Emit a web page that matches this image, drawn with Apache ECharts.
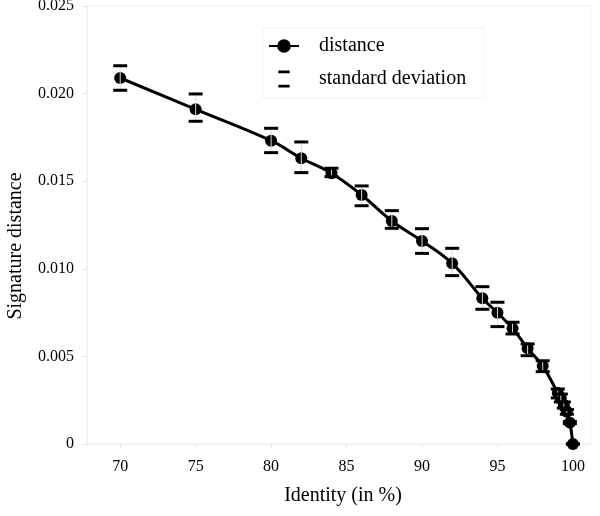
<!DOCTYPE html>
<html>
<head>
<meta charset="utf-8">
<script src="https://cdn.jsdelivr.net/npm/echarts@6/dist/echarts.min.js"></script>
<style>html,body{margin:0;padding:0;background:#fff;}#c{width:600px;height:516px;}</style>
</head>
<body>
<div id="c"></div>
<script>
var xVals = [70, 75, 80, 82, 84, 86, 88, 90, 92, 94, 95, 96, 97, 98, 99, 99.2, 99.4, 99.6, 99.8, 100];
var distVals = [0.02089, 0.01910, 0.01731, 0.01631, 0.01545, 0.01421, 0.01273, 0.01159, 0.01031, 0.00832, 0.00749, 0.00660, 0.00546, 0.00445, 0.00291, 0.00261, 0.00223, 0.00184, 0.00122, 0];
var sdUpper = [0.02159, 0.01998, 0.01802, 0.01724, 0.01574, 0.01473, 0.01332, 0.01229, 0.01117, 0.00898, 0.00809, 0.00695, 0.00571, 0.00475, 0.00314, 0.00285, 0.00240, 0.00197, 0.00128, 0];
var sdLower = [0.02019, 0.01842, 0.01663, 0.01549, 0.01526, 0.01360, 0.01231, 0.01088, 0.00961, 0.00769, 0.00670, 0.00628, 0.00504, 0.00413, 0.00263, 0.00240, 0.00205, 0.00170, 0.00116, 0];
var xTicks = [70, 75, 80, 85, 90, 95, 100];
var yTicks = [0, 0.005, 0.010, 0.015, 0.020, 0.025];
var yTickLabels = ['0', '0.005', '0.010', '0.015', '0.020', '0.025'];

var FONT = '"Liberation Serif", "DejaVu Serif", serif';
var lineData = xVals.map(function (x, i) { return [x, distVals[i]]; });
var errData = xVals.map(function (x, i) { return [x, sdLower[i], sdUpper[i]]; });

var chart = echarts.init(document.getElementById('c'));
chart.setOption({
  animation: false,
  backgroundColor: '#ffffff',
  textStyle: { fontFamily: FONT },
  grid: { left: 87, right: 9, top: 6, bottom: 72, containLabel: false, outerBoundsMode: 'none', show: true, borderColor: '#f0f0f0', borderWidth: 1 },
  legend: {
    orient: 'vertical',
    left: 263, top: 28,
    padding: [8, 18, 9, 5],
    itemWidth: 30, itemHeight: 17, itemGap: 13,
    borderColor: '#f2f2f2', borderWidth: 1,
    textStyle: { fontFamily: FONT, fontSize: 20, color: '#000', lineHeight: 20, padding: [0, 0, 0, 15] },
    data: [
      { name: 'distance' },
      { name: 'standard deviation', icon: 'path://M0,0H12V3H0ZM0,15H12V18H0Z', itemStyle: { color: '#000' } }
    ]
  },
  xAxis: {
    type: 'value', min: 67.8, max: 101.2,
    name: 'Identity (in %)', nameLocation: 'middle', nameGap: 42,
    nameTextStyle: { fontFamily: FONT, fontSize: 20, color: '#000', padding: [0, 0, 0, 8] },
    axisLine: { show: true, lineStyle: { color: '#eeeeee' } },
    axisTick: { show: true, customValues: xTicks, length: 5, lineStyle: { color: '#e6e6e6' } },
    axisLabel: { customValues: xTicks, fontFamily: FONT, fontSize: 16, color: '#000', margin: 15 },
    splitLine: { show: false }
  },
  yAxis: {
    type: 'value', min: 0, max: 0.025, interval: 0.005,
    name: 'Signature distance', nameLocation: 'middle', nameGap: 61,
    nameTextStyle: { fontFamily: FONT, fontSize: 20, color: '#000', padding: [0, 42, 0, 0] },
    axisLine: { show: true, lineStyle: { color: '#eeeeee' } },
    axisTick: { show: true, length: 5, lineStyle: { color: '#e6e6e6' } },
    axisLabel: {
      fontFamily: FONT, fontSize: 16, color: '#000', margin: 13,
      formatter: function (v) {
        for (var i = 0; i < yTicks.length; i++) { if (Math.abs(v - yTicks[i]) < 1e-9) return yTickLabels[i]; }
        return '';
      }
    },
    splitLine: { show: false }
  },
  series: [
    {
      name: 'distance', type: 'line', data: lineData,
      smooth: 0.4,
      symbol: 'circle', symbolSize: 12,
      itemStyle: { color: '#000' },
      lineStyle: { color: '#000', width: 3 },
      clip: false, z: 2
    },
    {
      name: 'standard deviation', type: 'custom', data: errData,
      itemStyle: { color: '#000' },
      encode: { x: 0, y: [1, 2] },
      z: 3,
      renderItem: function (params, api) {
        var x = api.value(0);
        var lo = api.coord([x, api.value(1)]);
        var hi = api.coord([x, api.value(2)]);
        var hw = 7;
        return {
          type: 'group',
          children: [
            { type: 'line', shape: { x1: lo[0], y1: lo[1], x2: hi[0], y2: hi[1] }, style: { stroke: '#d8d8d8', lineWidth: 1 } },
            { type: 'line', shape: { x1: hi[0] - hw, y1: hi[1], x2: hi[0] + hw, y2: hi[1] }, style: { stroke: '#000', lineWidth: 3 } },
            { type: 'line', shape: { x1: lo[0] - hw, y1: lo[1], x2: lo[0] + hw, y2: lo[1] }, style: { stroke: '#000', lineWidth: 3 } }
          ]
        };
      }
    }
  ]
});
</script>
</body>
</html>
